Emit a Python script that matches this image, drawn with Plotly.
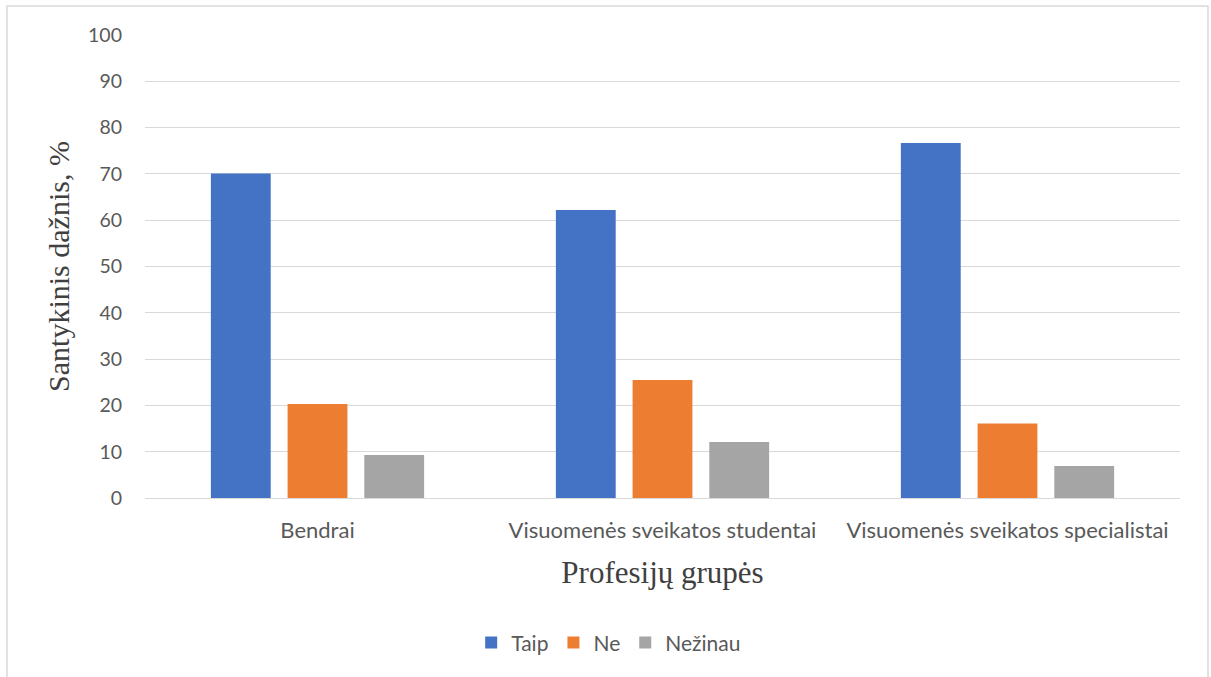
import plotly.graph_objects as go

categories = ["Bendrai", "Visuomenės sveikatos studentai", "Visuomenės sveikatos specialistai"]
taip = [70.1, 62.2, 76.7]
ne = [20.3, 25.5, 16.1]
nezinau = [9.3, 12.1, 6.9]
series_names = ["Taip", "Ne", "Nežinau"]
colors = ["#4472C4", "#ED7D31", "#A5A5A5"]

fig = go.Figure()
for name, vals, col in zip(series_names, [taip, ne, nezinau], colors):
    fig.add_trace(go.Bar(x=categories, y=vals, name=name, marker_color=col,
                         marker_line_width=0))

font_main = "Lato, 'Open Sans', sans-serif"
serif = "'Liberation Serif', 'Times New Roman', serif"
fig.update_layout(
    width=1211, height=677,
    margin=dict(l=145, r=31, t=35, b=179),
    paper_bgcolor="white", plot_bgcolor="white",
    barmode="group", bargap=0.333, bargroupgap=0.22,
    font=dict(family=font_main, color="#595959", size=19),
    showlegend=True,
    legend=dict(orientation="h", x=0.448, xanchor="center", y=-0.313, yanchor="middle",
                font=dict(size=21, color="#595959"), itemwidth=30, traceorder="normal"),
    xaxis=dict(showgrid=False, showline=True, linecolor="#D9D9D9", linewidth=1,
               tickfont=dict(size=22, color="#595959"), ticks="", ticklabelstandoff=13,
               title=dict(text="Profesijų grupės", standoff=18,
                          font=dict(family=serif, size=31, color="#404040"))),
    yaxis=dict(range=[0, 100], dtick=10, showgrid=True, gridcolor="#D9D9D9", gridwidth=1,
               zeroline=False, showline=False, ticks="", ticklabelstandoff=22,
               tickfont=dict(size=19.5, color="#595959"),
               title=dict(text="Santykinis dažnis, %", standoff=9,
                          font=dict(family=serif, size=30, color="#404040"))),
)
fig.add_shape(type="rect", xref="paper", yref="paper",
              x0=(7 - 145) / 1035, x1=(1208 - 145) / 1035,
              y0=(498 - 700) / 463, y1=(498 - 6) / 463,
              line=dict(color="#D9D9D9", width=1.5), fillcolor="rgba(0,0,0,0)", layer="below")
fig.write_html("out.html")
